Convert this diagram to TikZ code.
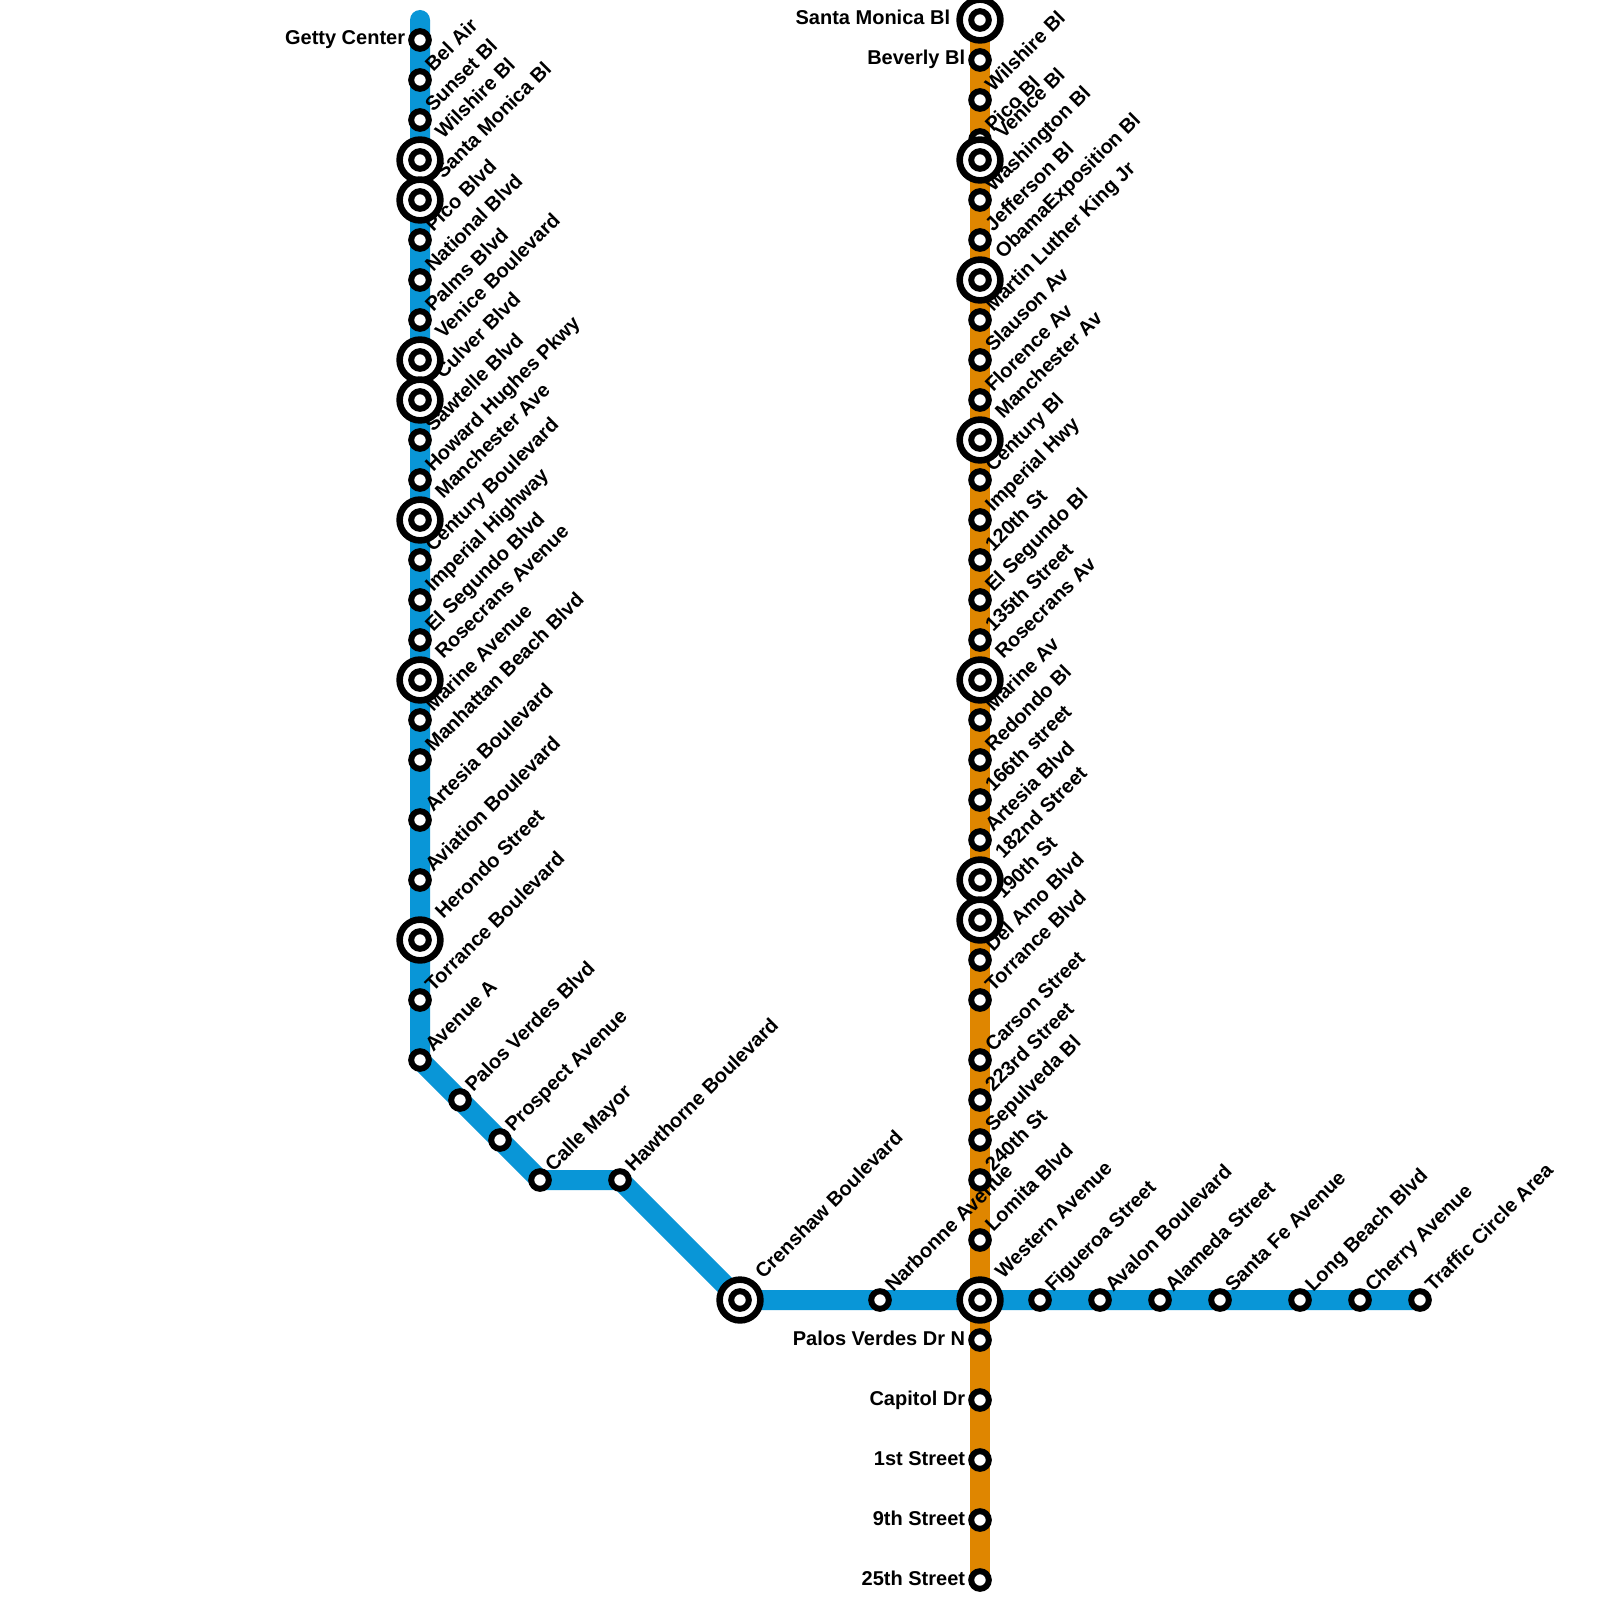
\documentclass[tikz,border=0pt]{standalone}
\usepackage{fontspec}
\setmainfont{Liberation Sans}[BoldFont={Liberation Sans Bold}]
\pgfdeclarelayer{bg}\pgfdeclarelayer{fg}\pgfsetlayers{bg,main,fg}
\definecolor{lineblue}{RGB}{9,150,215}
\definecolor{lineorange}{RGB}{223,134,0}
\tikzset{
 stn/.style={circle,draw=black,fill=white,line width=3pt,inner sep=0pt,outer sep=0pt,minimum size=8.8pt},
 hub/.style={circle,draw=black,fill=white,line width=3.3pt,inner sep=0pt,outer sep=0pt,minimum size=20.4pt},
 rlab/.style={inner sep=0pt,anchor=base west,rotate=45,font=\fontsize{10pt}{12pt}\selectfont\bfseries},
 llab/.style={inner sep=0pt,anchor=base east,font=\fontsize{10pt}{12pt}\selectfont\bfseries},
 bluel/.style={draw=lineblue,line width=10pt,line cap=round,line join=round},
 orangel/.style={draw=lineorange,line width=10pt,line cap=round,line join=round}
}
% regular / hub station, label to upper right
\newcommand\rs[4]{\node[stn] (#1) at (#2,#3) {};
 \begin{pgfonlayer}{fg}\node[rlab] (#1t) at ([shift={(13,-7)}]#1.center) {#4};\end{pgfonlayer}}
\newcommand\hs[4]{\node[hub] (#1h) at (#2,#3) {};\node[stn] (#1) at (#2,#3) {};
 \begin{pgfonlayer}{fg}\node[rlab] (#1t) at ([shift={(23,-20)}]#1.center) {#4};\end{pgfonlayer}}
% label to the left
\newcommand\ls[4]{\node[stn] (#1) at (#2,#3) {};
 \begin{pgfonlayer}{fg}\node[llab] (#1t) at ([shift={(-14.5,5)}]#1.center) {#4};\end{pgfonlayer}}
\newcommand\lh[4]{\node[hub] (#1h) at (#2,#3) {};\node[stn] (#1) at (#2,#3) {};
 \begin{pgfonlayer}{fg}\node[llab] (#1t) at ([shift={(-29.5,5)}]#1.center) {#4};\end{pgfonlayer}}
\begin{document}
\begin{tikzpicture}[x=0.5pt,y=-0.5pt]
\useasboundingbox (0,0) rectangle (1600,1600);
\begin{pgfonlayer}{bg}\fill[white] (0,0) rectangle (1600,1600);\end{pgfonlayer}
% blue line
\coordinate (btop) at (420,20);
\ls{b01}{420}{40}{Getty Center}
\rs{b02}{420}{80}{Bel Air}
\rs{b03}{420}{120}{Sunset Bl}
\hs{b04}{420}{160}{Wilshire Bl}
\hs{b05}{420}{200}{Santa Monica Bl}
\rs{b06}{420}{240}{Pico Blvd}
\rs{b07}{420}{280}{National Blvd}
\rs{b08}{420}{320}{Palms Blvd}
\hs{b09}{420}{360}{Venice Boulevard}
\hs{b10}{420}{400}{Culver Blvd}
\rs{b11}{420}{440}{Sawtelle Blvd}
\rs{b12}{420}{480}{Howard Hughes Pkwy}
\hs{b13}{420}{520}{Manchester Ave}
\rs{b14}{420}{560}{Century Boulevard}
\rs{b15}{420}{600}{Imperial Highway}
\rs{b16}{420}{640}{El Segundo Blvd}
\hs{b17}{420}{680}{Rosecrans Avenue}
\rs{b18}{420}{720}{Marine Avenue}
\rs{b19}{420}{760}{Manhattan Beach Blvd}
\rs{b20}{420}{820}{Artesia Boulevard}
\rs{b21}{420}{880}{Aviation Boulevard}
\hs{b22}{420}{940}{Herondo Street}
\rs{b23}{420}{1000}{Torrance Boulevard}
\rs{b24}{420}{1060}{Avenue A}
\rs{b25}{460}{1100}{Palos Verdes Blvd}
\rs{b26}{500}{1140}{Prospect Avenue}
\rs{b27}{540}{1180}{Calle Mayor}
\rs{b28}{620}{1180}{Hawthorne Boulevard}
\hs{b29}{740}{1300}{Crenshaw Boulevard}
\rs{b30}{880}{1300}{Narbonne Avenue}
% orange line
\lh{o01}{980}{20}{Santa Monica Bl}
\ls{o02}{980}{60}{Beverly Bl}
\rs{o03}{980}{100}{Wilshire Bl}
\rs{o04}{980}{140}{Pico Bl}
\hs{o05}{980}{160}{Venice Bl}
\rs{o06}{980}{200}{Washington Bl}
\rs{o07}{980}{240}{Jefferson Bl}
\hs{o08}{980}{280}{ObamaExposition Bl}
\rs{o09}{980}{320}{Martin Luther King Jr}
\rs{o10}{980}{360}{Slauson Av}
\rs{o11}{980}{400}{Florence Av}
\hs{o12}{980}{440}{Manchester Av}
\rs{o13}{980}{480}{Century Bl}
\rs{o14}{980}{520}{Imperial Hwy}
\rs{o15}{980}{560}{120th St}
\rs{o16}{980}{600}{El Segundo Bl}
\rs{o17}{980}{640}{135th Street}
\hs{o18}{980}{680}{Rosecrans Av}
\rs{o19}{980}{720}{Marine Av}
\rs{o20}{980}{760}{Redondo Bl}
\rs{o21}{980}{800}{166th street}
\rs{o22}{980}{840}{Artesia Blvd}
\hs{o23}{980}{880}{182nd Street}
\hs{o24}{980}{920}{190th St}
\rs{o25}{980}{960}{Del Amo Blvd}
\rs{o26}{980}{1000}{Torrance Blvd}
\rs{o27}{980}{1060}{Carson Street}
\rs{o28}{980}{1100}{223rd Street}
\rs{o29}{980}{1140}{Sepulveda Bl}
\rs{o30}{980}{1180}{240th St}
\rs{o31}{980}{1240}{Lomita Blvd}
\hs{x01}{980}{1300}{Western Avenue}
\ls{o32}{980}{1340}{Palos Verdes Dr N}
\ls{o33}{980}{1400}{Capitol Dr}
\ls{o34}{980}{1460}{1st Street}
\ls{o35}{980}{1520}{9th Street}
\ls{o36}{980}{1580}{25th Street}
% blue line east part
\rs{b31}{1040}{1300}{Figueroa Street}
\rs{b32}{1100}{1300}{Avalon Boulevard}
\rs{b33}{1160}{1300}{Alameda Street}
\rs{b34}{1220}{1300}{Santa Fe Avenue}
\rs{b35}{1300}{1300}{Long Beach Blvd}
\rs{b36}{1360}{1300}{Cherry Avenue}
\rs{b37}{1420}{1300}{Traffic Circle Area}
\begin{pgfonlayer}{bg}
\draw[orangel] (o01.center) -- (o36.center);
\draw[bluel] (btop) -- (b24.center) -- (b27.center) -- (b28.center) -- (b29.center) -- (b37.center);
\end{pgfonlayer}
\end{tikzpicture}
\end{document}
